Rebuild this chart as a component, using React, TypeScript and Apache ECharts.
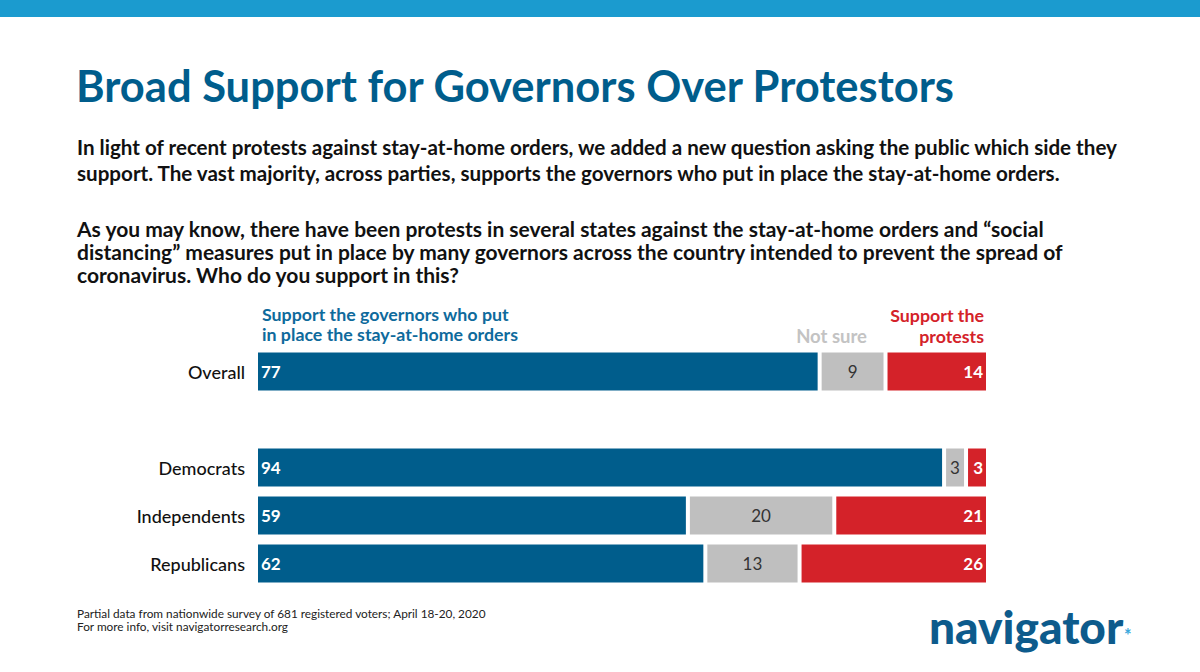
import React, { useEffect, useRef } from "react";
import * as echarts from "echarts";

const groups = ["Overall", "", "Democrats", "Independents", "Republicans"];
const governors = [77, null, 94, 59, 62];
const notSure = [9, null, 3, 20, 13];
const protests = [14, null, 3, 21, 26];

const titleText = "Broad Support for Governors Over Protestors";
const introLines = [
  "In light of recent protests against stay-at-home orders, we added a new question asking the public which side they",
  "support. The vast majority, across parties, supports the governors who put in place the stay-at-home orders.",
];
const questionLines = [
  "As you may know, there have been protests in several states against the stay-at-home orders and \u201csocial",
  "distancing\u201d measures put in place by many governors across the country intended to prevent the spread of",
  "coronavirus. Who do you support in this?",
];
const footLines = [
  "Partial data from nationwide survey of 681 registered voters; April 18-20, 2020",
  "For more info, visit navigatorresearch.org",
];
const legendGov = ["Support the governors who put", "in place the stay-at-home orders"];
const legendNotSure = "Not sure";
const legendProtest = ["Support the", "protests"];

const FONT = 'Lato, "Open Sans", "Noto Sans", sans-serif';
const BLUE = "#005d8c";
const GRAY = "#bfbfbf";
const RED = "#d42229";

function build(values: (number | null)[]) {
  return values.map((v, i) => {
    if (v === null) return "-";
    const tot = (governors[i] || 0) + (notSure[i] || 0) + (protests[i] || 0);
    return { value: (v / tot) * 100, raw: v };
  });
}

export default function App() {
  const ref = useRef<HTMLDivElement>(null);
  useEffect(() => {
    const chart = echarts.init(ref.current!, null, { renderer: "svg" });
    const txt = (x: number, y: number, text: string, style: any) => ({
      type: "text",
      x,
      y,
      style: { text, fontFamily: FONT, textVerticalAlign: "middle", ...style },
    });
    const graphics: any[] = [
      { type: "rect", shape: { x: 0, y: 0, width: 1200, height: 17 }, style: { fill: "#1b9bcf" } },
      txt(76, 85, titleText, { fontSize: 43.5, fontWeight: 700, fill: BLUE }),
      ...introLines.map((l, i) => txt(77, 147 + i * 26, l, { fontSize: 20.6, fontWeight: 700, fill: "#111" })),
      ...questionLines.map((l, i) => txt(77, 228 + i * 23, l, { fontSize: 21, fontWeight: 700, fill: "#111" })),
      txt(262, 324, legendGov.join("\n"), { fontSize: 17.8, lineHeight: 20, fontWeight: 700, fill: "#0e6a9c" }),
      txt(867, 335.5, legendNotSure, { fontSize: 18.5, fontWeight: 700, fill: "#c3c3c3", align: "right" }),
      txt(984, 325.5, legendProtest.join("\n"), { fontSize: 17.8, lineHeight: 21, fontWeight: 700, fill: RED, align: "right" }),
      txt(77, 619.5, footLines.join("\n"), { fontSize: 11.8, lineHeight: 13, fill: "#222" }),
      txt(929, 626, "navigator", { fontSize: 46, fontWeight: 900, fill: "#0d5b8c" }),
      txt(1124, 635, "*", { fontSize: 18, fontWeight: 700, fill: "#3aa8dc" }),
    ];
    const common = {
      type: "bar",
      stack: "total",
      barWidth: 42,
      itemStyle: { borderColor: "#ffffff", borderWidth: 2 },
    };
    const fmt = (p: any) => (p.data && p.data.raw !== undefined ? String(p.data.raw) : "");
    chart.setOption({
      animation: false,
      graphic: graphics,
      grid: { left: 256, width: 732, top: 347.5, height: 240, containLabel: false },
      xAxis: { type: "value", min: 0, max: 100, show: false },
      yAxis: {
        type: "category",
        data: groups,
        inverse: true,
        axisLine: { show: false },
        axisTick: { show: false },
        splitLine: { show: false },
        axisLabel: { fontSize: 18, fontFamily: FONT, color: "#111", fontWeight: 500, margin: 11 },
      },
      series: [
        {
          ...common,
          name: "Support the governors",
          data: build(governors),
          itemStyle: { ...common.itemStyle, color: BLUE },
          label: { show: true, position: "insideLeft", distance: 5, formatter: fmt, color: "#fff", fontWeight: 700, fontSize: 17, fontFamily: FONT },
        },
        {
          ...common,
          name: "Not sure",
          data: build(notSure),
          itemStyle: { ...common.itemStyle, color: GRAY },
          label: { show: true, position: "inside", formatter: fmt, color: "#333", fontWeight: 400, fontSize: 17, fontFamily: FONT },
        },
        {
          ...common,
          name: "Support the protests",
          data: build(protests),
          itemStyle: { ...common.itemStyle, color: RED },
          label: { show: true, position: "insideRight", distance: 5, formatter: fmt, color: "#fff", fontWeight: 700, fontSize: 17, fontFamily: FONT },
        },
      ],
    });
    return () => chart.dispose();
  }, []);
  return (
    <div
      ref={ref}
      style={{ position: "absolute", left: 0, top: 0, width: 1200, height: 672, background: "#fff" }}
    />
  );
}
